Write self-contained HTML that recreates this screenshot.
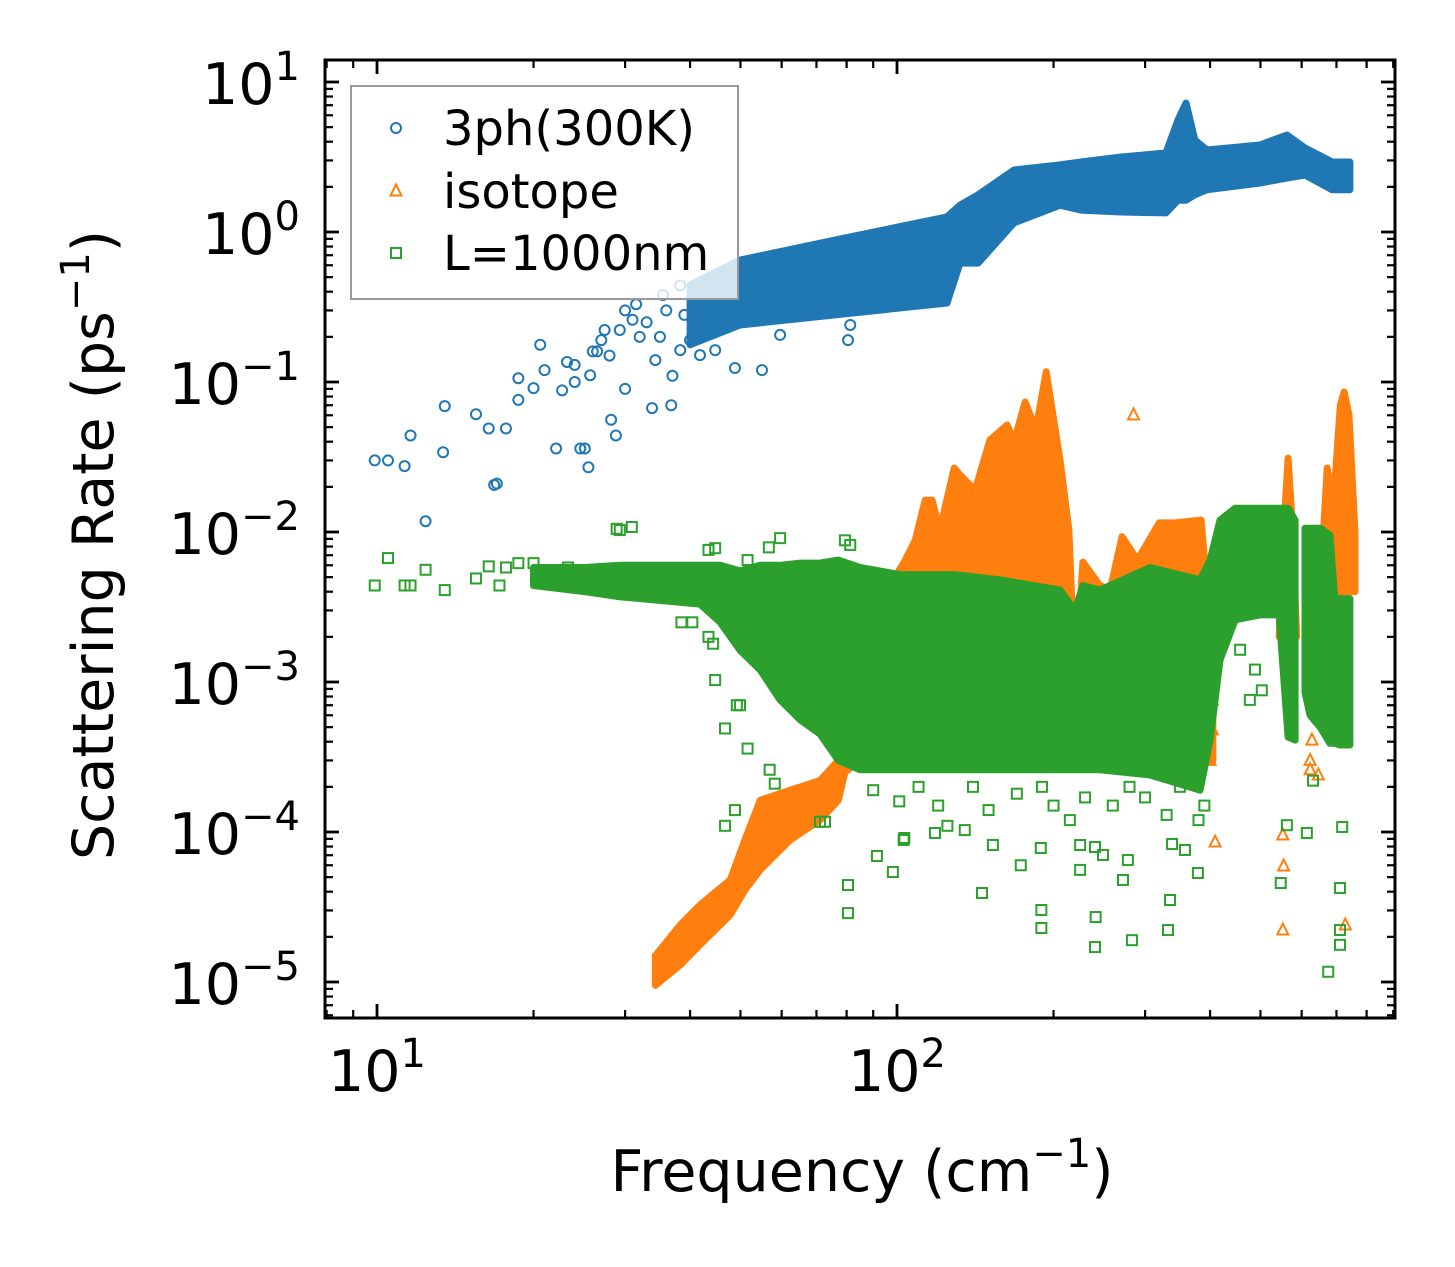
<!DOCTYPE html>
<html><head><meta charset="utf-8"><style>
html,body{margin:0;padding:0;background:#fff;}
svg{display:block;font-family:"DejaVu Sans","Liberation Sans",sans-serif;}
</style></head><body>
<svg id="chart" width="1455" height="1267" viewBox="0 0 1455 1267" xmlns="http://www.w3.org/2000/svg">
<rect x="0" y="0" width="1455" height="1267" fill="#fff"/>
<defs><clipPath id="plotclip"><rect x="325" y="60" width="1070" height="958"/></clipPath></defs>
<g id="plot" clip-path="url(#plotclip)"></g>
<g id="axes"></g>
<g id="legend"></g>
</svg>
<script>
// ---------- data ----------
// 3-phonon scattering (300K): dense band envelope
const ph3BandFreq=[40.0,49.9,76.0,124.8,132.2,143.2,167.9,205.8,226,269.7,329,347,359.5,374,394.5,499,562,609,687,743];
const ph3BandHi=[0.443,0.65,0.885,1.26,1.51,1.77,2.59,2.80,2.93,3.16,3.36,5.58,7.24,4.10,3.52,3.80,4.43,3.63,2.93,2.93];
const ph3BandLo=[0.177,0.24,0.28,0.336,0.62,0.62,1.15,1.51,1.40,1.36,1.34,1.63,1.63,1.77,1.91,2.12,2.29,2.40,1.91,1.91];
// 3ph scattered points
const ph3Freq=[9.9,10.5,11.3,11.6,12.4,13.4,13.5,15.5,16.4,16.8,17.0,17.7,18.7,18.7,20.0,20.6,22.1,22.7,23.2,24.6,25.1,25.5,25.7,27.0,27.4,28.2,28.8,29.3,31.0,33.8,34.3,36.8,38.3,40.0,41.8,44.7,48.8,55.0,59.6,80.5,81.3,21,24,26,28,30,32,35,37,39,30,33,36,24,26.5,35.5,38.3,31.5];
const ph3Rate=[0.030,0.030,0.0275,0.044,0.0118,0.034,0.069,0.061,0.049,0.0206,0.021,0.049,0.106,0.076,0.091,0.177,0.036,0.088,0.136,0.036,0.036,0.027,0.111,0.19,0.222,0.056,0.044,0.222,0.26,0.067,0.14,0.070,0.163,0.19,0.151,0.163,0.124,0.12,0.206,0.19,0.24,0.12,0.1,0.16,0.15,0.09,0.2,0.2,0.11,0.28,0.3,0.25,0.3,0.13,0.16,0.38,0.44,0.33];
// isotope scattering: dense envelopes
const isoBandFreq=[34.3,38.3,41.8,47.8,51.0,54.6,62.3,71.1,77.1,79.4,84.9,92.7,103,108.4,113.3,116.8,120.9,128.8,132.2,141.3,150.9,162.8,168,176.3,185,193.6,205.8,214.1,219.9,227.8,245.6,256.9,270.8,290,319.3,342.6,384.5,396.6,405];
const isoBandHi=[1.5e-5,2.4e-5,3.26e-5,4.8e-5,8.85e-5,1.63e-4,1.9e-4,2.2e-4,3e-4,1.0e-3,1.9e-3,3.5e-3,6.2e-3,8.8e-3,0.0163,0.0163,0.0103,0.0267,0.024,0.019,0.041,0.0517,0.04,0.0736,0.048,0.117,0.0302,0.0103,0.00103,0.0063,0.0044,0.0041,0.0093,0.0065,0.0115,0.0115,0.012,0.0035,7.6e-4];
const isoBandLo=[9.5e-6,1.3e-5,1.77e-5,2.8e-5,4.1e-5,5.6e-5,8.85e-5,1.2e-4,1.63e-4,2.5e-4,3e-4,3e-4,3e-4,3e-4,3e-4,3e-4,3e-4,3e-4,3e-4,3e-4,3e-4,3e-4,3e-4,3e-4,3e-4,3e-4,3e-4,3e-4,3e-4,3e-4,3e-4,3e-4,3e-4,3e-4,3e-4,3e-4,3e-4,3e-4,3e-4];
const isoSpikeAFreq=[543,556,565,575,587];
const isoSpikeAHi=[0.002,0.012,0.0311,0.012,0.002];
const isoSpikeALo=[0.002,0.002,0.002,0.002,0.002];
const isoSpikeBFreq=[651,672,690,700,712,724,740,760];
const isoSpikeBHi=[0.004,0.0267,0.015,0.03,0.07,0.0858,0.06,0.01];
const isoSpikeBLo=[0.004,0.004,0.004,0.004,0.004,0.004,0.004,0.004];
// isotope scattered points
const isoFreq=[285,409,552,554,552,728,646,623,705,711,721,714,728,646,651,628,623,404,404,400,405];
const isoRate=[0.0603,8.57e-5,9.55e-5,5.93e-5,2.22e-5,2.4e-5,2.4e-4,2.6e-4,0.0088,0.0065,0.0048,0.0035,0.003,7.6e-4,5.6e-4,4.1e-4,3e-4,7.6e-4,4.8e-4,3e-4,1.03e-3];
// boundary scattering L=1000nm: dense envelopes
const bdBandFreq=[20.0,25.1,29.3,35,41.8,45.7,49.9,54.6,59.6,65.1,71.1,77.1,84.9,101.4,128.8,157.8,205.8,219.9,227.8,245.6,306.6,382.8,400];
const bdBandHi=[0.0058,0.0058,0.006,0.006,0.006,0.006,0.0055,0.006,0.006,0.0062,0.0062,0.0065,0.0058,0.0052,0.0052,0.0048,0.0041,0.003,0.0044,0.0041,0.0058,0.0048,0.0065];
const bdBandLo=[0.0044,0.004,0.0037,0.0035,0.0033,0.0025,0.00163,0.0012,0.00076,0.00056,0.00045,0.0003,0.00026,0.00026,0.00026,0.00026,0.00026,0.00026,0.00026,0.00026,0.00024,0.00019,0.00041];
const bdHumpFreq=[400,418,447,499,543,565,583];
const bdHumpHi=[0.0065,0.012,0.0144,0.0144,0.0144,0.0144,0.012];
const bdHumpLo=[0.00041,0.0014,0.0026,0.0028,0.0028,0.00043,0.00041];
const bdColFreq=[609,623,651,680,695,711,743];
const bdColHi=[0.0106,0.0106,0.0106,0.0095,0.0036,0.0036,0.0036];
const bdColLo=[0.00085,0.0006,0.0005,0.00039,0.00039,0.00038,0.00038];
// boundary scattered points
const bdFreq=[9.9,10.5,11.3,11.6,12.4,13.5,15.5,16.4,17.2,17.7,18.7,20.0,20.6,22.1,23.3,25.1,25.8,27.0,28.9,29.3,30.9,43.4,44.7,51.6,56.7,59.6,81.3,79.4,
38.5,40.4,43.4,44.3,44.7,49.2,49.9,46.7,51.6,56.9,58.2,48.8,46.7,71.1,72.7,80.5,80.5,91.5,103,98.2,103.3,118.3,135,152.9,145.7,173,189,189.5,189.5,225,225,240.3,249,272,278,283,332,335,338,358,379,241,240.3,547,562,614,631,711,711,711,718,675,
457,488,503,477,101,120,150,200,260,300,330,170,230,90,110,140,190,280,350,390,380,215,125];
const bdRate=[0.0044,0.0067,0.0044,0.0044,0.0056,0.0041,0.0049,0.0059,0.0044,0.0058,0.0062,0.0062,0.0053,0.0051,0.0058,0.0050,0.0052,0.0044,0.0105,0.0103,0.0108,0.0076,0.0078,0.0065,0.0079,0.0091,0.0082,0.0088,
0.0025,0.0025,0.002,0.0018,0.00103,0.0007,0.0007,0.00049,0.00036,0.00026,0.00021,0.00014,0.00011,0.000117,0.000117,4.43e-5,2.88e-5,6.92e-5,8.85e-5,5.41e-5,9.12e-5,9.85e-5,1.03e-4,8.19e-5,3.92e-5,6.0e-5,7.82e-5,3.02e-5,2.29e-5,5.59e-5,8.19e-5,7.94e-5,7.03e-5,4.79e-5,6.5e-5,1.9e-5,2.22e-5,3.52e-5,8.32e-5,7.59e-5,5.33e-5,2.71e-5,1.71e-5,4.57e-5,1.11e-4,9.85e-5,2.2e-4,2.22e-5,1.77e-5,4.23e-5,1.08e-4,1.17e-5,
0.00164,0.00121,0.00088,0.00076,0.00016,0.00015,0.00014,0.00015,0.00015,0.00017,0.00013,0.00018,0.00017,0.00019,0.0002,0.0002,0.0002,0.0002,0.0002,0.00015,0.00012,0.00012,0.00011];
// axis ticks
const xMajorExp=[1,2];
const yMajorExp=[1,0,-1,-2,-3,-4,-5];
const yTickLabels=["1","0","\u22121","\u22122","\u22123","\u22124","\u22125"];
const xTickLabels=["1","2"];

// ---------- scales ----------
const NS="http://www.w3.org/2000/svg";
const X0=325,X1=1395,Y0=60,Y1=1018;
function xs(f){return 377+520*(Math.log10(f)-1);}
function ys(r){return 82+150*(1-Math.log10(r));}
function mk(tag,attrs,parent){const e=document.createElementNS(NS,tag);for(const k in attrs)e.setAttribute(k,attrs[k]);parent.appendChild(e);return e;}
const plot=document.getElementById('plot');
const axes=document.getElementById('axes');
const legend=document.getElementById('legend');
const C_BLUE="#1f77b4",C_ORANGE="#ff7f0e",C_GREEN="#2ca02c";

function band(freq,hi,lo,color,name){
  const pts=[];
  for(let i=0;i<freq.length;i++)pts.push(xs(freq[i]).toFixed(1)+","+ys(hi[i]).toFixed(1));
  for(let i=freq.length-1;i>=0;i--)pts.push(xs(freq[i]).toFixed(1)+","+ys(lo[i]).toFixed(1));
  const p=mk('polygon',{points:pts.join(' '),fill:color,stroke:color,'stroke-width':7,'stroke-linejoin':'round'},plot);
  
  
}
function circlePt(cx,cy,parent){
  const c=mk('circle',{cx:cx,cy:cy,r:5,fill:'none',stroke:C_BLUE,'stroke-width':2},parent);
  
  
}
function triPt(cx,cy,parent){
  const p=mk('polygon',{points:`${cx},${cy-6.5} ${cx-5.5},${cy+4.5} ${cx+5.5},${cy+4.5}`,fill:'none',stroke:C_ORANGE,'stroke-width':2},parent);
  
  
}
function sqPt(cx,cy,parent){
  const p=mk('rect',{x:cx-5,y:cy-5,width:10,height:10,fill:'none',stroke:C_GREEN,'stroke-width':2},parent);
  
  
}

// 3ph
band(ph3BandFreq,ph3BandHi,ph3BandLo,C_BLUE,'3ph-dense-band');
for(let i=0;i<ph3Freq.length;i++)circlePt(xs(ph3Freq[i]),ys(ph3Rate[i]),plot);
// isotope
band(isoBandFreq,isoBandHi,isoBandLo,C_ORANGE,'isotope-dense-band');
band(isoSpikeAFreq,isoSpikeAHi,isoSpikeALo,C_ORANGE,'isotope-spike-a');
band(isoSpikeBFreq,isoSpikeBHi,isoSpikeBLo,C_ORANGE,'isotope-spike-b');
for(let i=0;i<isoFreq.length;i++)triPt(xs(isoFreq[i]),ys(isoRate[i]),plot);
// boundary
band(bdBandFreq,bdBandHi,bdBandLo,C_GREEN,'boundary-dense-band');
band(bdHumpFreq,bdHumpHi,bdHumpLo,C_GREEN,'boundary-hump');
band(bdColFreq,bdColHi,bdColLo,C_GREEN,'boundary-column');
for(let i=0;i<bdFreq.length;i++)sqPt(xs(bdFreq[i]),ys(bdRate[i]),plot);

// ---------- axes ----------
const frame=mk('rect',{x:X0,y:Y0,width:X1-X0,height:Y1-Y0,fill:'none',stroke:'#000','stroke-width':3},axes);


function tick(x1,y1,x2,y2,w,name){
  const l=mk('line',{x1:x1,y1:y1,x2:x2,y2:y2,stroke:'#000','stroke-width':w},axes);
  
  
}
// x ticks
for(let d=0;d<=2;d++){
  for(let m=1;m<=9;m++){
    const f=m*Math.pow(10,d);
    const x=xs(f);
    if(x<X0+1||x>X1-1)continue;
    const L=(m===1)?14:8,w=(m===1)?2.8:2.2;
    tick(x,Y1,x,Y1-L,w,m===1?'x-major-tick':'x-minor-tick');
    tick(x,Y0,x,Y0+L,w,m===1?'x-major-tick-top':'x-minor-tick-top');
  }
}
// y ticks
for(let d=-6;d<=1;d++){
  for(let m=1;m<=9;m++){
    const r=m*Math.pow(10,d);
    const y=ys(r);
    if(y<Y0+1||y>Y1-1)continue;
    const L=(m===1)?14:8,w=(m===1)?2.8:2.2;
    tick(X0,y,X0+L,y,w,m===1?'y-major-tick':'y-minor-tick');
    tick(X1,y,X1-L,y,w,m===1?'y-major-tick-right':'y-minor-tick-right');
  }
}
// tick labels
for(let i=0;i<xMajorExp.length;i++){
  const x=xs(Math.pow(10,xMajorExp[i]));
  const t=mk('text',{x:x,y:1091,'text-anchor':'middle','font-size':57,fill:'#000'},axes);
  
  
  t.appendChild(document.createTextNode('10'));
  const s=mk('tspan',{'font-size':40,dy:-24},t);
  s.textContent=xTickLabels[i];
}
for(let i=0;i<yMajorExp.length;i++){
  const y=ys(Math.pow(10,yMajorExp[i]));
  const t=mk('text',{x:300,y:y+22,'text-anchor':'end','font-size':57,fill:'#000'},axes);
  
  
  t.appendChild(document.createTextNode('10'));
  const s=mk('tspan',{'font-size':40,dy:-24},t);
  s.textContent=yTickLabels[i];
}
// axis titles
const xt=mk('text',{x:862,y:1191,'text-anchor':'middle','font-size':57,fill:'#000'},axes);


xt.appendChild(document.createTextNode('Frequency (cm'));
const xts=mk('tspan',{'font-size':40,dy:-24},xt);xts.textContent='\u22121';
const xte=mk('tspan',{dy:24},xt);xte.textContent=')';
const yt=mk('text',{x:0,y:0,'text-anchor':'middle','font-size':57,fill:'#000',transform:'translate(113,545) rotate(-90)'},axes);


yt.appendChild(document.createTextNode('Scattering Rate (ps'));
const yts=mk('tspan',{'font-size':40,dy:-24},yt);yts.textContent='\u22121';
const yte=mk('tspan',{dy:24},yt);yte.textContent=')';

// ---------- legend ----------
const lb=mk('rect',{x:351,y:86,width:387,height:213,fill:'#fff','fill-opacity':0.8,stroke:'#999','stroke-width':2},legend);


const entries=[['3ph(300K)',128,circlePt],['isotope',191,triPt],['L=1000nm',253,sqPt]];
for(const [label,y,fn] of entries){
  const g=mk('g',{},legend);
  
  
  fn(396,y,g);
  const t=mk('text',{x:443,y:y+17,'font-size':48,fill:'#000'},g);
  
  
  t.textContent=label;
}
</script>
</body></html>
